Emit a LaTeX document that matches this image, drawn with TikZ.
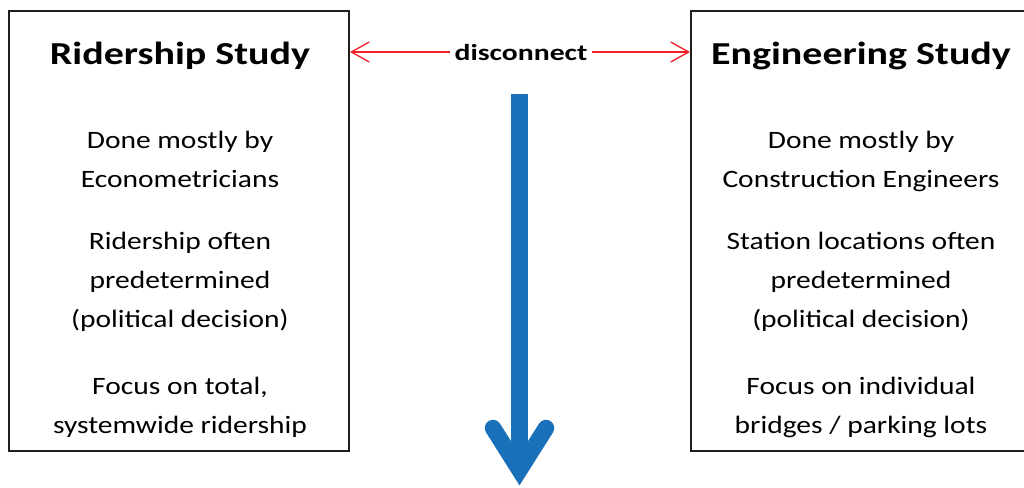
\documentclass[tikz,border=0pt]{standalone}
\usepackage{fontspec}
\setmainfont{Carlito}
\newfontfamily\titlefont[FakeStretch=1.25]{Carlito}
\newfontfamily\bodyfont[FakeStretch=1.18]{Carlito}
\newfontfamily\linkfont[FakeStretch=1.29]{Carlito}
\usetikzlibrary{arrows.meta}
\definecolor{arrowblue}{RGB}{27,112,186}
\definecolor{linkred}{RGB}{236,32,36}
\definecolor{boxline}{RGB}{30,30,30}
\tikzset{
  studybox/.style={draw=boxline, line width=2pt, minimum width=340pt, minimum height=440pt, inner sep=0pt},
  titletext/.style={font=\titlefont\fontsize{32}{38}\selectfont\bfseries, anchor=base, inner sep=0pt},
  bodytext/.style={font=\bodyfont\fontsize{25}{30}\selectfont, anchor=base, inner sep=0pt},
  linklabel/.style={font=\linkfont\fontsize{23}{28}\selectfont\bfseries, fill=white, inner xsep=5pt, inner ysep=2pt},
  linkarrow/.style={draw=linkred, line width=1.3pt, {Straight Barb[length=18pt,width=20pt,line width=1.3pt]}-{Straight Barb[length=18pt,width=20pt,line width=1.3pt]}},
  bigarrow/.style={draw=arrowblue, line width=16.5pt}
}
\begin{document}
\begin{tikzpicture}[x=1pt,y=-1pt]
\useasboundingbox (0,0) rectangle (1024,487);
\clip (0,0) rectangle (1024,487);
% boxes
\node[studybox] (L) at (179,231) {};
\node[studybox] (R) at (861,231) {};
% titles
\node[titletext] (Lt) at (180,64) {Ridership Study};
\node[titletext] (Rt) at (861,64) {Engineering Study};
% left body
\node[bodytext] (L1) at (180,148) {Done mostly by};
\node[bodytext] (L2) at (180,187) {Econometricians};
\node[bodytext] (L3) at (180,249) {Ridership often};
\node[bodytext] (L4) at (180,288) {predetermined};
\node[bodytext] (L5) at (180,327) {(political decision)};
\node[bodytext] (L6) at (180,394) {Focus on total,};
\node[bodytext] (L7) at (180,433) {systemwide ridership};
% right body
\node[bodytext] (R1) at (861,148) {Done mostly by};
\node[bodytext] (R2) at (861,187) {Construction Engineers};
\node[bodytext] (R3) at (861,249) {Station locations often};
\node[bodytext] (R4) at (861,288) {predetermined};
\node[bodytext] (R5) at (861,327) {(political decision)};
\node[bodytext] (R6) at (861,394) {Focus on individual};
\node[bodytext] (R7) at (861,433) {bridges / parking lots};
% disconnect link
\coordinate (dc) at (520,52);
\draw[linkarrow] (L.east |- dc) -- (R.west |- dc);
\node[linklabel] (dis) at (521,53) {disconnect};
% blue arrow
\coordinate (atop) at (519.5,94);
\coordinate (avert) at (519.5,470);
\coordinate (aleft) at (493,428);
\coordinate (aright) at (546,428);
\draw[bigarrow, line cap=butt] (atop) -- (avert);
\draw[bigarrow, line cap=round, line join=miter, miter limit=10] (aleft) -- (avert) -- (aright);
\end{tikzpicture}
\end{document}
